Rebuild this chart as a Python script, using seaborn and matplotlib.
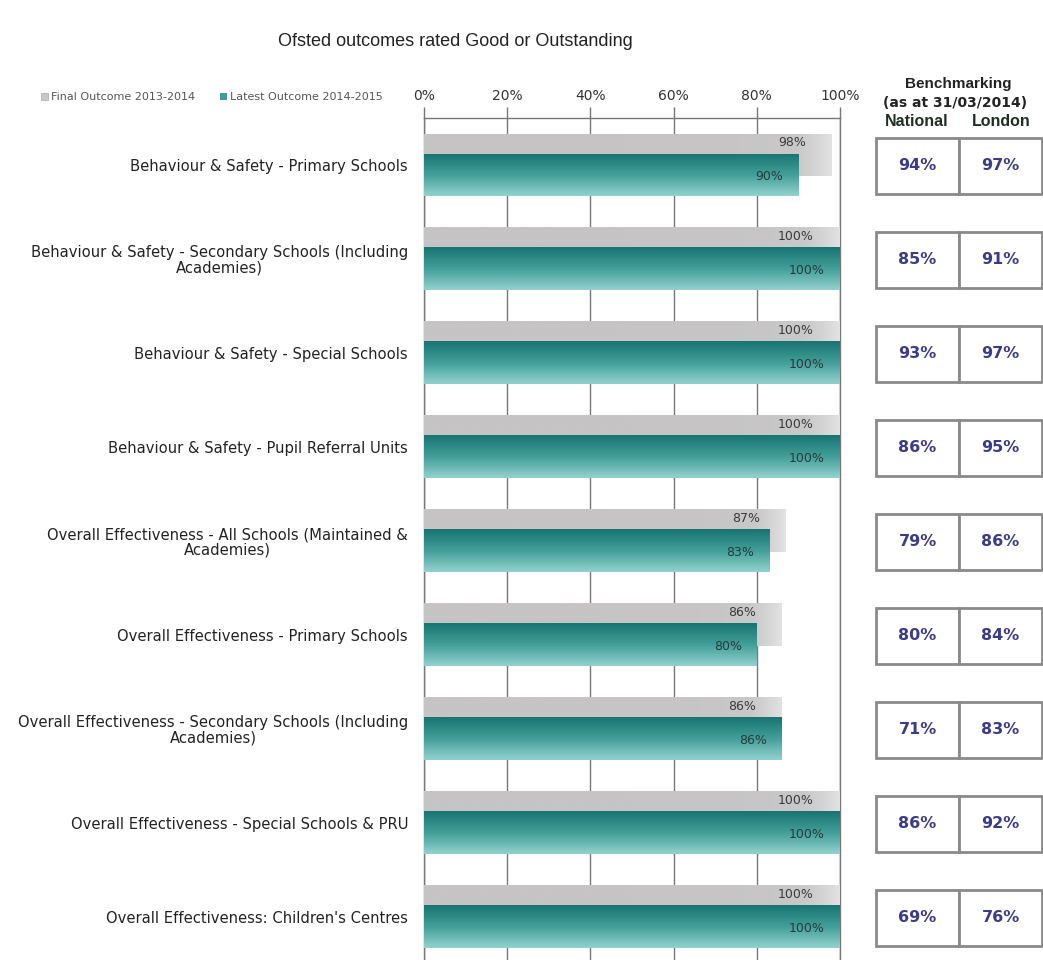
import numpy as np
import pandas as pd
import matplotlib
matplotlib.use("Agg")
import matplotlib.pyplot as plt
import seaborn as sns
from matplotlib.colors import LinearSegmentedColormap
from matplotlib.patches import Rectangle

categories = [
    "Behaviour & Safety - Primary Schools",
    "Behaviour & Safety - Secondary Schools (Including\nAcademies)",
    "Behaviour & Safety - Special Schools",
    "Behaviour & Safety - Pupil Referral Units",
    "Overall Effectiveness - All Schools (Maintained &\nAcademies)",
    "Overall Effectiveness - Primary Schools",
    "Overall Effectiveness - Secondary Schools (Including\nAcademies)",
    "Overall Effectiveness - Special Schools & PRU",
    "Overall Effectiveness: Children's Centres",
]
final_2013_14 = [98, 100, 100, 100, 87, 86, 86, 100, 100]
latest_2014_15 = [90, 100, 100, 100, 83, 80, 86, 100, 100]
national = [94, 85, 93, 86, 79, 80, 71, 86, 69]
london = [97, 91, 97, 95, 86, 84, 83, 92, 76]
series_names = ["Final Outcome 2013-2014", "Latest Outcome 2014-2015"]
x_ticks = [0, 20, 40, 60, 80, 100]
x_tick_labels = ["0%", "20%", "40%", "60%", "80%", "100%"]

df = pd.DataFrame({
    "category": categories * 2,
    "value": final_2013_14 + latest_2014_15,
    "series": [series_names[0]] * len(categories) + [series_names[1]] * len(categories),
})

sns.set_theme(style="white")
plt.rcParams["font.family"] = ["DejaVu Sans"]

W, H = 1043, 960
fig = plt.figure(figsize=(W / 100, H / 100), dpi=100)
ax = fig.add_axes([424 / W, 0.0, (840 - 424) / W, (960 - 118) / H])

gray_col = "#c9c8c8"
teal_col = "#3f9c98"
sns.barplot(data=df, y="category", x="value", hue="series", orient="h",
            palette=[gray_col, teal_col], dodge=True, width=0.426,
            errorbar=None, ax=ax, legend=False, saturation=1, zorder=3)

bar_h = 0.457
for cont in ax.containers:
    for p in cont:
        c = p.get_y() + p.get_height() / 2
        p.set_y(c - bar_h / 2)
        p.set_height(bar_h)
        p.set_edgecolor("none")
for p in ax.containers[1]:
    p.set_zorder(4)

ylim = (8.46, -0.50)
ax.set_xlim(0, 100)

# gradients
teal_cmap = LinearSegmentedColormap.from_list("t", ["#177470", "#429e99", "#93d2ce"])
gray_cmap = LinearSegmentedColormap.from_list("g", ["#c6c4c4", "#cac9c9", "#e2e2e2"])
grad_v = np.linspace(0, 1, 256).reshape(-1, 1)
grad_h = np.linspace(0, 1, 256).reshape(1, -1)
for p in ax.containers[0]:
    x0, y0, w, h = p.get_x(), p.get_y(), p.get_width(), p.get_height()
    im = ax.imshow(grad_h ** 8, extent=[x0, x0 + w, y0 + h, y0], aspect="auto",
                   cmap=gray_cmap, zorder=3.2, interpolation="bicubic")
    im.set_clip_path(p)
for p in ax.containers[1]:
    x0, y0, w, h = p.get_x(), p.get_y(), p.get_width(), p.get_height()
    im = ax.imshow(grad_v, extent=[x0, x0 + w, y0 + h, y0], aspect="auto",
                   cmap=teal_cmap, zorder=4.2, interpolation="bicubic")
    im.set_clip_path(p)
ax.set_xlim(0, 100)
ax.set_ylim(*ylim)

# value labels
for p, v in zip(ax.containers[0], final_2013_14):
    ax.annotate(f"{v}%", (p.get_x() + p.get_width(), p.get_y()),
                xytext=(-26, -9), textcoords="offset pixels",
                ha="right", va="center", fontsize=9, color="#3a3a3a", zorder=5)
for p, v in zip(ax.containers[1], latest_2014_15):
    ax.annotate(f"{v}%", (p.get_x() + p.get_width(), p.get_y() + p.get_height() / 2),
                xytext=(-15, -2), textcoords="offset pixels",
                ha="right", va="center", fontsize=9, color="#2a3a3a", zorder=5)

# axes styling
ax.set_xlabel("")
ax.set_ylabel("")
ax.xaxis.tick_top()
ax.set_xticks(x_ticks)
ax.set_xticklabels(x_tick_labels, fontsize=10, color="#333333")
ax.tick_params(axis="x", length=8, width=1, color="#777777", pad=3, top=True, bottom=True, direction="out")
ax.tick_params(axis="y", length=0, pad=11.5)
for lab in ax.get_yticklabels():
    lab.set_fontsize(10.6)
    lab.set_color("#222222")
    lab.set_multialignment("center")
    lab.set_linespacing(1.0)
ax.grid(axis="x", color="#777777", linewidth=1, zorder=0)
ax.set_axisbelow(True)
ax.spines["bottom"].set_visible(False)
for s in ["top", "left", "right"]:
    ax.spines[s].set_color("#777777")
    ax.spines[s].set_linewidth(1)
    ax.spines[s].set_zorder(1)

# legend
handles = [Rectangle((0, 0), 1, 1, facecolor=gray_col, edgecolor="#999999", linewidth=0.4),
           Rectangle((0, 0), 1, 1, facecolor=teal_col, edgecolor="none")]
fig.legend(handles, series_names, loc="center", bbox_to_anchor=(212 / W, 1 - 97 / H),
           ncol=2, frameon=False, fontsize=8, handlelength=0.6, handleheight=0.6,
           handletextpad=0.3, columnspacing=2.2, labelcolor="#555555")

# title
fig.text(455 / W, 1 - 42 / H, "Ofsted outcomes rated Good or Outstanding",
         ha="center", va="center", fontsize=13, color="#222222",
         family="Liberation Sans")

# benchmarking table
ax2 = fig.add_axes([876 / W, 0.0, 167 / W, (960 - 118) / H])
ax2.set_xlim(0, 2.012)
ax2.set_ylim(*ylim)
ax2.axis("off")
box_h = 0.6
for i, (n, l) in enumerate(zip(national, london)):
    for j, val in enumerate([n, l]):
        ax2.add_patch(Rectangle((j, i - box_h / 2 + 0.01), 1, box_h, facecolor="white",
                                edgecolor="#8a8a8a", linewidth=2, clip_on=False))
        ax2.text(j + 0.5, i + 0.01, f"{val}%", ha="center", va="center",
                 fontsize=11.5, fontweight="bold", color="#3b3b8c")
fig.text(958 / W, 1 - 84 / H, "Benchmarking", ha="center", va="center",
         fontsize=11, fontweight="bold", color="#222222", family="Liberation Sans")
fig.text(955 / W, 1 - 103 / H, "(as at 31/03/2014)", ha="center", va="center",
         fontsize=10, fontweight="bold", color="#222222")
fig.text(917 / W, 1 - 122 / H, "National", ha="center", va="center",
         fontsize=11.5, fontweight="bold", color="#1f2f22", family="Liberation Sans")
fig.text(1001 / W, 1 - 122 / H, "London", ha="center", va="center",
         fontsize=11.5, fontweight="bold", color="#1f2f22", family="Liberation Sans")

fig.savefig("out.png", dpi=100, facecolor="white")
